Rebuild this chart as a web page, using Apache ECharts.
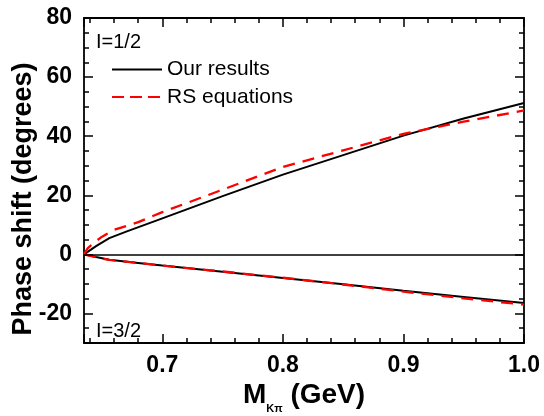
<!DOCTYPE html>
<html>
<head>
<meta charset="utf-8">
<script src="https://cdn.jsdelivr.net/npm/echarts@6/dist/echarts.min.js"></script>
<style>
html,body{margin:0;padding:0;background:#fff;}
#chart{width:544px;height:416px;}
</style>
</head>
<body>
<div id="chart"></div>
<script>
// ---- data ----
// I=1/2, our results
const xOurs12 = [0.635, 0.645, 0.656, 0.67, 0.7, 0.75, 0.8, 0.85, 0.9, 0.95, 1.0];
const yOurs12 = [0, 2.8, 5.5, 7.7, 12.2, 19.7, 27.0, 33.6, 40.2, 46.0, 51.2];
// I=1/2, RS equations
const xRS12 = [0.635, 0.638, 0.643, 0.65, 0.66, 0.68, 0.7, 0.75, 0.8, 0.85, 0.9, 0.95, 1.0];
const yRS12 = [0, 2.0, 3.9, 6.0, 8.3, 10.9, 14.3, 21.9, 29.6, 35.2, 40.8, 44.9, 48.7];
// I=3/2, our results
const xOurs32 = [0.635, 0.645, 0.656, 0.68, 0.7, 0.75, 0.8, 0.85, 0.9, 0.95, 1.0];
const yOurs32 = [0, -0.9, -1.8, -2.9, -3.8, -5.9, -8.0, -10.1, -12.3, -14.4, -16.5];
// I=3/2, RS equations
const xRS32 = [0.635, 0.645, 0.656, 0.68, 0.7, 0.75, 0.8, 0.85, 0.9, 0.95, 1.0];
const yRS32 = [0, -1.0, -1.9, -2.9, -3.8, -5.8, -7.9, -10.2, -12.6, -14.9, -17.0];

const seriesNames = ['Our results', 'RS equations'];
const isospinLabels = ['I=1/2', 'I=3/2'];
const xTitleMain = 'M';
const xTitleSub = 'K\u03c0';
const xTitleUnit = ' (GeV)';
const yTitle = 'Phase shift (degrees)';
const xRange = [0.635, 1.0];
const yRange = [-30, 80];

const pairs = (xs, ys) => xs.map((x, i) => [x, ys[i]]);
const FONT = 'Liberation Sans, Arial, Helvetica, sans-serif';

function xAxisDef(pos, major) {
  return {
    type: 'value', position: pos, min: xRange[0], max: xRange[1],
    minInterval: major ? 0.1 : 0.02, maxInterval: major ? 0.1 : 0.02,
    splitNumber: major ? 4 : 18,
    axisLine: { show: major, onZero: false, lineStyle: { color: '#000', width: 1.8 } },
    axisTick: { show: true, inside: true, length: major ? 9 : 5, lineStyle: { color: '#000', width: 1.5 } },
    axisLabel: {
      show: major && pos === 'bottom', margin: 11, color: '#000',
      fontSize: 23, fontWeight: 'bold', fontFamily: FONT,
      formatter: v => (Math.abs(v * 10 - Math.round(v * 10)) < 1e-6 ? v.toFixed(1) : '')
    },
    splitLine: { show: false }
  };
}
function yAxisDef(pos, major) {
  const d = {
    type: 'value', position: pos, min: yRange[0], max: yRange[1],
    axisLine: { show: major, onZero: false, lineStyle: { color: '#000', width: 1.8 } },
    axisTick: { show: true, inside: true, length: major ? 9 : 5, lineStyle: { color: '#000', width: 1.5 } },
    axisLabel: {
      show: major && pos === 'left', margin: 12, color: '#000',
      fontSize: 23, fontWeight: 'bold', fontFamily: FONT,
      formatter: v => (Math.abs(v / 20 - Math.round(v / 20)) < 1e-6 ? String(Math.round(v)) : '')
    },
    splitLine: { show: false }
  };
  if (major) { d.minInterval = 20; d.maxInterval = 20; d.splitNumber = 5; }
  else { d.interval = 5; }
  return d;
}

const chart = echarts.init(document.getElementById('chart'), null, { renderer: 'canvas' });
chart.setOption({
  animation: false,
  backgroundColor: '#fff',
  grid: { left: 84, top: 18, width: 440, height: 325, containLabel: false, outerBoundsMode: 'none' },
  xAxis: [xAxisDef('bottom', true), xAxisDef('bottom', false), xAxisDef('top', true), xAxisDef('top', false)],
  yAxis: [yAxisDef('left', true), yAxisDef('left', false), yAxisDef('right', true), yAxisDef('right', false)],
  legend: {
    left: 106, top: 54, orient: 'vertical', itemWidth: 50, itemHeight: 14, itemGap: 6.5,
    itemStyle: { opacity: 0 },
    textStyle: { fontSize: 21, fontFamily: FONT, color: '#000', lineHeight: 20 },
    data: [{ name: seriesNames[0] }, { name: seriesNames[1], lineStyle: { type: [12, 6] } }]
  },
  series: [
    {
      name: seriesNames[0], type: 'line', data: pairs(xOurs12, yOurs12), symbol: 'none', smooth: false,
      lineStyle: { color: '#000', width: 2 }, itemStyle: { color: '#000' },
      markLine: {
        silent: true, symbol: ['none', 'none'], label: { show: false },
        lineStyle: { color: '#000', width: 1.5, type: 'solid' },
        data: [{ yAxis: 0 }]
      }
    },
    {
      name: seriesNames[0], type: 'line', data: pairs(xOurs32, yOurs32), symbol: 'none',
      lineStyle: { color: '#000', width: 2 }, itemStyle: { color: '#000' }
    },
    {
      name: seriesNames[1], type: 'line', data: pairs(xRS12, yRS12), symbol: 'none',
      lineStyle: { color: '#ff0000', width: 2.3, type: [12, 8] }, itemStyle: { color: '#ff0000' }
    },
    {
      name: seriesNames[1], type: 'line', data: pairs(xRS32, yRS32), symbol: 'none',
      lineStyle: { color: '#ff0000', width: 2.3, type: [12, 8] }, itemStyle: { color: '#ff0000' }
    }
  ],
  graphic: [
    { type: 'text', x: 96, y: 42, style: { text: isospinLabels[0], fontSize: 20, fontFamily: FONT, fill: '#000', align: 'left', verticalAlign: 'middle' } },
    { type: 'text', x: 96, y: 331, style: { text: isospinLabels[1], fontSize: 20, fontFamily: FONT, fill: '#000', align: 'left', verticalAlign: 'middle' } },
    { type: 'text', x: 23.5, y: 199, rotation: Math.PI / 2,
      style: { text: yTitle, fontSize: 27, fontWeight: 'bold', fontFamily: FONT, fill: '#000', align: 'center', verticalAlign: 'middle' } },
    { type: 'text', x: 304, y: 395,
      style: {
        text: '{m|' + xTitleMain + '}{s|' + xTitleSub + '}{m|' + xTitleUnit + '}',
        align: 'center', verticalAlign: 'middle', fill: '#000',
        rich: {
          m: { fontSize: 28, fontWeight: 'bold', fontFamily: FONT, fill: '#000' },
          s: { fontSize: 11, fontWeight: 'bold', fontFamily: FONT, fill: '#000', padding: [28, 0, 0, 0] }
        }
      } }
  ]
});
</script>
</body>
</html>
